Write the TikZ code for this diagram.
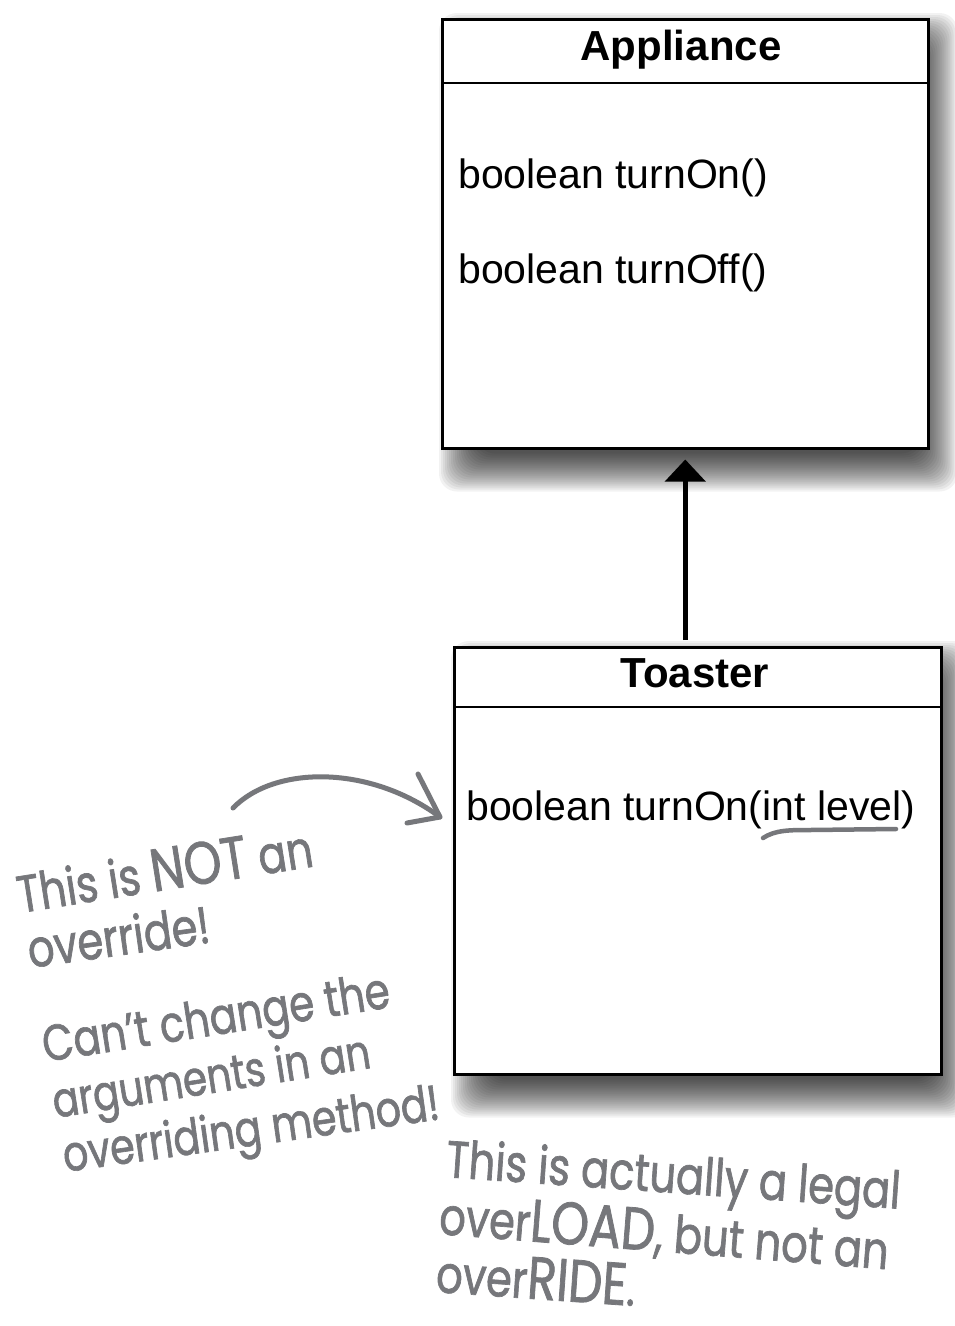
\documentclass[tikz,border=0pt]{standalone}
\usepackage{fontspec}
\setmainfont{Liberation Sans}
\newfontfamily\handfont[FakeStretch=0.8, FakeBold=1.3]{Poppins}
\usetikzlibrary{arrows.meta}
\definecolor{handgray}{RGB}{118,119,123}
\pgfdeclarelayer{paper}
\pgfdeclarelayer{shade}
\pgfsetlayers{paper,shade,main}
\newcommand\mydropshadow[1]{%
  \begin{pgfonlayer}{shade}
  \foreach \k in {0,...,19}{%
    \fill[black, opacity=0.05, rounded corners=18pt]
      ([shift={(-2+2*\k,-5+2*\k)}]#1.north west) rectangle ([shift={(28-2*\k,42-2*\k)}]#1.south east);
  }
  \end{pgfonlayer}}
\newcommand\bigcaps[1]{{\fontsize{60}{60}\selectfont #1}}
\begin{document}
\begin{tikzpicture}[x=1pt,y=-1pt,
  classbox/.style={draw=black, line width=2.5pt, fill=white, rectangle, inner sep=0pt, anchor=north west},
  divider/.style={draw=black, line width=2.5pt},
  titletext/.style={font=\fontsize{42}{50}\selectfont\bfseries, anchor=base, inner sep=0pt},
  methtext/.style={font=\fontsize{41}{49}\selectfont, anchor=base west, inner sep=0pt},
  inherit/.style={draw=black, line width=4.5pt, -{Triangle[width=40pt,length=22pt]}, shorten >=10pt},
  handline/.style={draw=handgray, line width=5pt, line cap=round, line join=round},
  hand/.style={font=\handfont\fontsize{52}{58}\selectfont, text=handgray, anchor=base west, inner sep=0pt}]
\begin{pgfonlayer}{paper}
\fill[white] (0,0) rectangle (954,1326);
\end{pgfonlayer}
\useasboundingbox (0,0) rectangle (954,1326);

% Appliance class
\node[classbox, minimum width=486pt, minimum height=429pt] (app) at (441,18) {};
\mydropshadow{app}
\draw[divider] ([yshift=-65pt]app.north west) -- ([yshift=-65pt]app.north east);
\node[titletext] (appname) at (681,60) {Appliance};
\node[methtext] (m1) at (458,188) {boolean turnOn()};
\node[methtext] (m2) at (458,283) {boolean turnOff()};

% Toaster class
\node[classbox, minimum width=487pt, minimum height=427pt] (toaster) at (453,646) {};
\mydropshadow{toaster}
\draw[divider] ([yshift=-61pt]toaster.north west) -- ([yshift=-61pt]toaster.north east);
\node[titletext] (toastname) at (695,687) {Toaster};
\node[methtext] (tm) at (466,820) {boolean turnOn(int level)};

% inheritance arrow
\draw[inherit] ([yshift=6pt]toaster.north -| app.south) -- (app.south);

% hand-drawn arrow
\coordinate (ntail) at (233,808);
\coordinate (ntip) at (440,817);
\coordinate (barbA) at (418,774);
\coordinate (barbB) at (407,823);
\draw[handline] (ntail) .. controls (275,765) and (370,765) .. (ntip);
\draw[handline] (barbA) -- (ntip) -- (barbB);

% underline of int level
\draw[handgray, line width=4.5pt, line cap=round] (763,838) .. controls (775,830) and (790,830) .. (810,830) -- (896,829);

% annotations
\node[hand, rotate=9] (a1) at (20,913) {This is \bigcaps{NOT} an};
\node[hand, rotate=8] (a2) at (30,968) {override!};
\node[hand, rotate=9, font=\handfont\fontsize{50.5}{58}\selectfont] (b1) at (45,1062) {Can’t change the};
\node[hand, rotate=9, font=\handfont\fontsize{48.5}{58}\selectfont] (b2) at (55,1118) {arguments in an};
\node[hand, rotate=8, font=\handfont\fontsize{49.5}{58}\selectfont] (b3) at (65,1172) {overriding method!};
\node[hand, rotate=-4] (c1) at (445,1177) {This is actually a legal};
\node[hand, rotate=-4.5] (c2) at (438,1234) {over\bigcaps{LOAD}, but not an};
\node[hand, rotate=-4] (c3) at (435,1292) {over\bigcaps{RIDE}.};
\end{tikzpicture}
\end{document}
